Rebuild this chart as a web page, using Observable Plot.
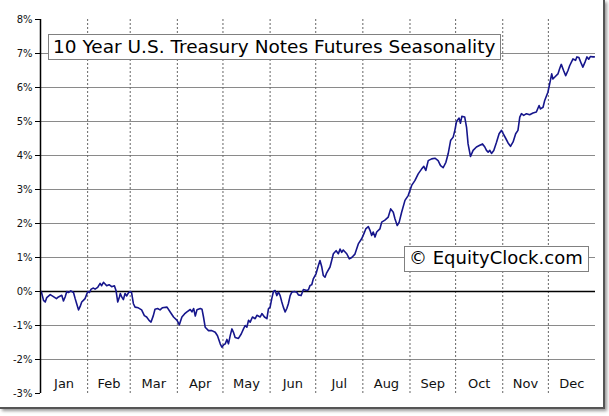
<!DOCTYPE html>
<html>
<head>
<meta charset="utf-8">
<script src="https://cdn.jsdelivr.net/npm/d3@7"></script>
<script src="https://cdn.jsdelivr.net/npm/@observablehq/plot@0.6"></script>
<style>
  html, body { margin: 0; padding: 0; background: #fff; }
  #wrap { position: relative; width: 609px; height: 416px; overflow: hidden; background: #fff; }
  #frame { position: absolute; left: 0; top: 0; width: 603px; height: 407px;
           border-right: 2px solid #555; border-bottom: 2px solid #555;
           box-shadow: 2px 2px 3px #999; }
  #chart { position: absolute; left: 0; top: 0; }
</style>
</head>
<body>
<div id="wrap"><div id="frame"></div><div id="chart"></div></div>
<script>
const title = "10 Year U.S. Treasury Notes Futures Seasonality";
const watermark = "© EquityClock.com";
const monthNames = ["Jan","Feb","Mar","Apr","May","Jun","Jul","Aug","Sep","Oct","Nov","Dec"];
const monthStarts = [0,31,59,90,120,151,181,212,243,273,304,334,365];
const yTicks = [-3,-2,-1,0,1,2,3,4,5,6,7,8];
const gridValues = [-2,-1,1,2,3,4,5,6,7];

// day of year
const days = [
0.5,2.0,3.1,4.1,6.4,8.5,10.5,11.8,14.0,15.1,16.2,17.3,18.4,19.9,21.7,22.8,23.8,25.0,26.1,27.1,28.2,29.3,
31.1,32.2,33.3,34.8,35.9,37.6,39.2,40.2,41.4,42.5,43.5,45.1,46.8,48.6,49.7,50.8,51.9,52.5,53.4,54.5,55.6,56.7,57.8,
58.9,59.9,61.1,62.2,64.3,66.5,68.3,69.8,71.4,72.7,74.2,75.3,77.0,78.6,80.1,83.2,85.4,87.5,89.8,
91.3,93.0,94.7,96.3,98.5,99.6,100.7,101.8,102.9,105.1,106.2,107.2,108.3,110.5,112.7,114.9,116.4,118.2,119.3,
120.4,121.5,122.6,123.6,124.8,125.9,126.9,128.0,130.2,132.0,133.5,134.6,135.7,136.8,137.9,139.4,141.2,142.3,
144.5,145.6,147.3,148.9,149.9,151.0,152.1,153.2,154.3,155.4,156.5,157.6,158.7,159.7,160.9,162.0,163.0,164.2,
165.3,167.0,168.5,169.6,171.4,172.9,175.1,176.2,177.3,178.4,179.4,181.2,182.7,183.8,185.0,186.0,187.1,188.2,
190.4,191.5,192.6,194.4,195.9,197.0,198.1,199.1,201.4,203.1,204.7,206.8,209.0,211.2,212.7,213.9,215.6,216.7,
217.8,218.8,220.0,221.1,223.2,224.4,226.5,228.7,230.3,232.0,233.1,234.6,235.9,237.5,239.7,241.8,244.1,246.2,
248.4,250.6,252.1,253.4,255.0,257.2,259.4,261.5,263.1,264.8,266.6,268.1,269.7,271.4,272.5,273.6,275.3,276.2,
277.1,279.0,280.2,281.2,282.8,284.5,286.7,288.9,290.7,292.2,293.3,294.4,295.5,296.6,298.1,299.9,301.6,303.2,
304.2,306.0,307.5,309.1,310.8,312.5,314.0,315.2,316.3,317.8,319.6,321.7,323.9,326.1,327.9,328.8,330.5,331.6,
333.7,335.3,336.2,337.0,338.1,340.3,341.4,342.5,344.0,345.4,346.9,348.0,350.2,351.9,352.8,354.1,355.7,356.7,
358.3,359.4,360.5,361.6,363.3,364.2
];
// seasonal return, percent
const values = [
0,-0.26,-0.31,-0.18,-0.09,-0.15,-0.21,-0.16,-0.11,-0.28,-0.16,0.0,-0.03,0.02,-0.03,-0.21,-0.36,-0.54,-0.44,-0.31,-0.26,-0.21,
0.0,-0.03,0.07,0.10,0.07,0.12,0.24,0.17,0.27,0.22,0.17,0.20,0.14,0.17,0.02,-0.31,-0.16,-0.06,-0.16,-0.24,-0.06,-0.13,-0.04,
0.0,-0.03,-0.36,-0.46,-0.48,-0.54,-0.71,-0.75,-0.85,-0.90,-0.71,-0.52,-0.50,-0.54,-0.48,-0.46,-0.61,-0.75,-0.85,
-0.98,-0.75,-0.66,-0.60,-0.53,-0.60,-0.50,-0.72,-0.54,-0.50,-0.52,-0.75,-1.05,-1.15,-1.15,-1.20,-1.30,-1.54,-1.64,
-1.57,-1.54,-1.41,-1.54,-1.29,-1.10,-1.20,-1.35,-1.38,-1.25,-1.10,-1.00,-1.05,-0.85,-0.90,-0.75,-0.80,-0.70,
-0.75,-0.65,-0.75,-0.80,-0.51,-0.46,-0.21,0.0,0.03,-0.12,-0.02,-0.12,-0.31,-0.46,-0.60,-0.50,-0.36,-0.12,
-0.02,0.0,-0.02,-0.10,-0.12,0.06,0.03,0.05,0.18,0.20,0.37,0.52,0.76,0.91,0.72,0.47,0.42,0.55,
0.72,0.91,1.11,1.20,1.11,1.25,1.15,1.22,1.11,0.96,1.00,1.10,1.40,1.55,1.70,1.84,1.91,1.80,
1.65,1.75,1.60,1.75,1.84,2.04,2.10,2.19,2.43,2.33,2.14,1.94,2.04,2.33,2.68,2.82,3.12,3.26,
3.46,3.60,3.68,3.56,3.85,3.90,3.92,3.85,3.70,3.64,3.80,4.05,4.44,4.54,4.74,5.00,5.10,4.95,
5.15,5.13,4.83,4.34,3.97,4.15,4.25,4.30,4.34,4.25,4.15,4.10,4.15,4.06,4.15,4.39,4.64,4.74,
4.65,4.50,4.37,4.27,4.40,4.64,4.74,5.13,5.23,5.18,5.23,5.20,5.25,5.28,5.47,5.37,5.42,5.62,
5.86,6.20,6.40,6.25,6.30,6.40,6.55,6.68,6.50,6.35,6.50,6.64,6.84,6.80,6.90,6.88,6.70,6.60,
6.77,6.90,6.83,6.91,6.90,6.90
];

const data = days.map((d, i) => ({day: d, value: values[i]}));
const mids = monthNames.map((m, i) => (monthStarts[i] + monthStarts[i + 1]) / 2);

const chart = Plot.plot({
  width: 609,
  height: 416,
  marginLeft: 40,
  marginRight: 14,
  marginTop: 19,
  marginBottom: 23,
  x: {domain: [0, 365], axis: null},
  y: {domain: [-3, 8], axis: null},
  style: {fontFamily: "'DejaVu Sans', Verdana, sans-serif", background: "transparent", color: "#111"},
  marks: [
    Plot.ruleY(gridValues, {stroke: "#8a8a8a", strokeWidth: 1}),
    Plot.ruleX(monthStarts.slice(1, 12), {stroke: "#666", strokeWidth: 1, strokeDasharray: "2,2"}),
    Plot.ruleY([0], {stroke: "#000", strokeWidth: 1.5}),
    Plot.line(data, {x: "day", y: "value", stroke: "#16168c", strokeWidth: 1.6}),
    Plot.ruleX([0], {stroke: "#000", strokeWidth: 1.5}),
    Plot.axisY({ticks: yTicks, tickFormat: d => d + "%", tickSize: 5, tickPadding: 3, fontSize: 10, stroke: "#000", label: null}),
    Plot.axisX({ticks: mids, tickFormat: d => monthNames[mids.indexOf(d)], tickSize: 0, tickPadding: 0, dy: -15, fontSize: 13, label: null})
  ]
});
document.getElementById("chart").appendChild(chart);

// annotation boxes
const svg = d3.select(chart);
function boxedText(str, x, yMid, size, padX) {
  const g = svg.append("g");
  const rect = g.append("rect").attr("fill", "#fff").attr("stroke", "#808080").attr("stroke-width", 1);
  const t = g.append("text").attr("x", x).attr("y", yMid).attr("dy", "0.36em")
    .attr("text-anchor", "start")
    .attr("font-family", "'DejaVu Sans', Verdana, sans-serif").attr("font-size", size).attr("fill", "#000").text(str);
  const b = t.node().getBBox();
  rect.attr("x", Math.round(b.x - padX) + 0.5).attr("y", Math.round(yMid - 12.5) + 0.5)
      .attr("width", Math.round(b.width + 2 * padX)).attr("height", 25);
}
boxedText(title, 53, 46.5, 18.5, 5);
boxedText(watermark, 409, 258, 18, 5);
</script>
</body>
</html>
